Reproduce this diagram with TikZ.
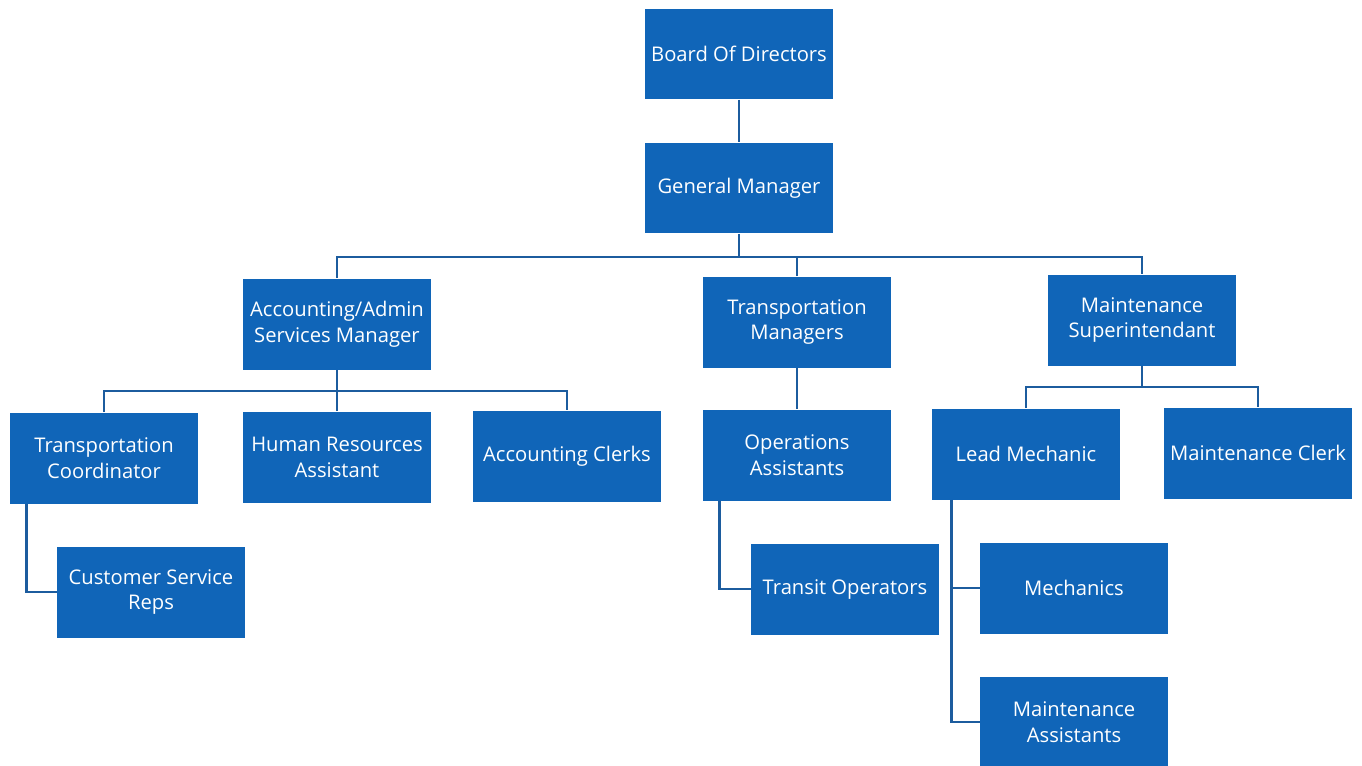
\documentclass[tikz,border=0pt]{standalone}
\usepackage{fontspec}
\setmainfont{Open Sans}
\definecolor{boxblue}{RGB}{16,101,184}
\definecolor{lineblue}{RGB}{28,92,158}
\begin{document}
\begin{tikzpicture}[x=0.02cm,y=-0.02cm,
  orgbox/.style={rectangle, fill=boxblue, draw=none, text=white,
    minimum width=3.76cm, minimum height=1.82cm, align=center, inner sep=1pt,
    font=\fontsize{11.5}{14.7}\selectfont},
  conn/.style={draw=lineblue, line width=1.6pt}]
\useasboundingbox (0,0) rectangle (1362,765);
\node[orgbox] (bod) at (739,54) {Board Of Directors};
\node[orgbox] (gm) at (739,188) {General Manager};
\node[orgbox] (acc) at (337,324) {Accounting/Admin\\Services Manager};
\node[orgbox] (tm) at (797,322) {Transportation\\Managers};
\node[orgbox] (ms) at (1142,320) {Maintenance\\Superintendant};
\node[orgbox] (tc) at (104,458) {Transportation\\Coordinator};
\node[orgbox] (hr) at (337,457) {Human Resources\\Assistant};
\node[orgbox] (ac) at (567,456) {Accounting Clerks};
\node[orgbox] (oa) at (797,455) {Operations\\Assistants};
\node[orgbox] (lm) at (1026,454) {Lead Mechanic};
\node[orgbox] (mc) at (1258,453) {Maintenance Clerk};
\node[orgbox] (csr) at (151,592) {Customer Service\\Reps};
\node[orgbox] (to) at (845,589) {Transit Operators};
\node[orgbox] (mech) at (1074,588) {Mechanics};
\node[orgbox] (ma) at (1074,722) {Maintenance\\Assistants};
\coordinate (bus1) at (739,257);
\coordinate (bus2) at (337,391);
\coordinate (bus3) at (1142,387);
% connectors
\draw[conn] (bod.south) -- (gm.north);
\draw[conn] (gm.south) -- (bus1);
\draw[conn] (acc.north) |- (bus1) -| (ms.north);
\draw[conn] (tm.north) -- (tm.north |- bus1);
\draw[conn] (acc.south) -- (bus2);
\draw[conn] (tc.north) |- (bus2) -| (ac.north);
\draw[conn] (hr.north) -- (bus2);
\draw[conn] (tm.south) -- (oa.north);
\draw[conn] (ms.south) -- (bus3);
\draw[conn] (lm.north) |- (bus3) -| (mc.north);
\draw[conn] (tc.south west) ++(17,0) |- (csr.west);
\draw[conn] (oa.south west) ++(17,0) |- (to.west);
\draw[conn] (lm.south west) ++(20,0) |- (ma.west);
\draw[conn] (lm.south west) ++(20,0) |- (mech.west);
\end{tikzpicture}
\end{document}
